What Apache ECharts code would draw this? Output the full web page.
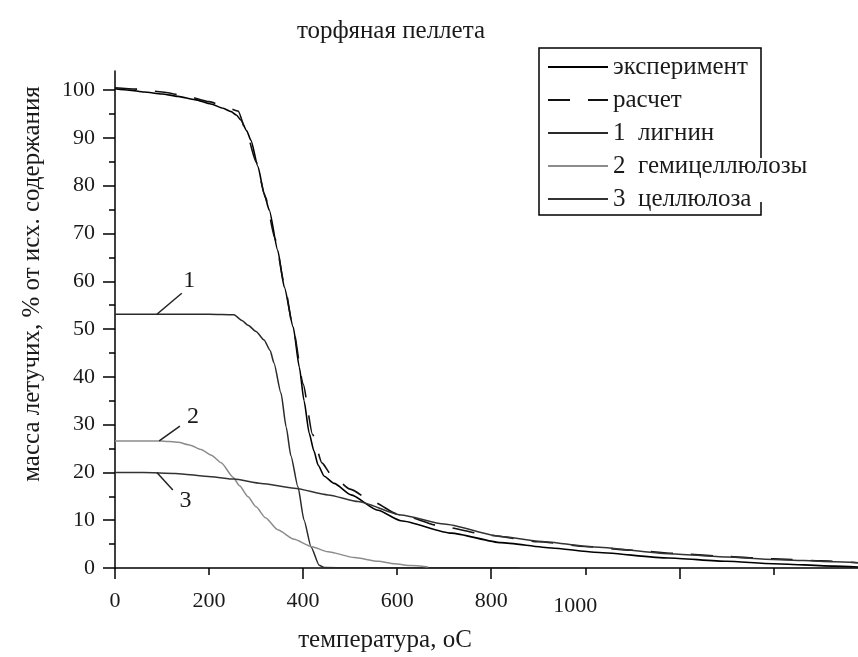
<!DOCTYPE html>
<html><head><meta charset="utf-8">
<script src="https://cdn.jsdelivr.net/npm/echarts@6/dist/echarts.min.js"></script>
<style>html,body{margin:0;padding:0;background:#fff}#c{width:858px;height:657px}</style>
</head><body><div id="c"></div>
<script>
const titleText = 'торфяная пеллета';
const xName = 'температура, оС';
const yName = 'масса летучих, % от исх. содержания';
const seriesNames = ['эксперимент', 'расчет', '1  лигнин', '2  гемицеллюлозы', '3  целлюлоза'];
const xTickLabels = [0, 200, 400, 600, 800, 1000];
const xTicksMinor = [0, 200, 400, 600, 800, 1000, 1200, 1400];
const xTicksMajor = [0, 400, 800, 1200];
const yTickLabels = [0, 10, 20, 30, 40, 50, 60, 70, 80, 90, 100];
const yTicksMinor = [5, 15, 25, 35, 45, 55, 65, 75, 85, 95];

// эксперимент
const tExp = [0, 30, 62, 100, 134, 170, 204, 230, 247, 258, 268, 280, 289, 304, 317, 328, 346, 360, 379, 392, 402, 413, 423, 432, 445, 466, 502, 559, 608, 715, 821, 928, 1019, 1177, 1300, 1400, 1530, 1580];
const vExp = [100.3, 100.0, 99.6, 99.2, 98.7, 98.0, 97.1, 96.2, 95.5, 94.8, 93.7, 91.5, 89.5, 84.0, 78.4, 74.9, 66.5, 58.8, 50.4, 42.0, 35.0, 28.2, 24.5, 21.5, 19.2, 17.7, 15.3, 12.1, 9.9, 7.3, 5.3, 4.2, 3.3, 2.1, 1.4, 0.9, 0.4, 0.2];
// расчет
const tCalc = [0, 50, 100, 150, 200, 240, 262, 280, 300, 320, 340, 360, 380, 400, 420, 440, 460, 500, 550, 600, 700, 800, 900, 1000, 1100, 1200, 1300, 1400, 1500, 1580];
const vCalc = [100.5, 100.2, 99.6, 98.8, 97.6, 96.3, 95.6, 91.0, 85.0, 77.5, 69.0, 59.5, 49.5, 38.5, 28.0, 22.0, 19.5, 16.5, 13.8, 11.3, 8.6, 6.8, 5.5, 4.5, 3.7, 3.0, 2.4, 1.9, 1.5, 1.1];
// 1 лигнин
const tLig = [0, 100, 200, 253, 270, 283, 300, 317, 330, 338, 353, 364, 374, 389, 402, 417, 434, 445, 500, 700, 860];
const vLig = [53.1, 53.1, 53.1, 53.0, 51.8, 50.8, 49.5, 47.7, 45.5, 42.9, 36.6, 29.5, 23.5, 17.0, 10.0, 4.4, 0.6, 0.1, 0.05, 0.05, 0.05];
// 2 гемицеллюлозы
const tHem = [0, 98, 134, 160, 183, 205, 226, 251, 265, 283, 300, 320, 346, 381, 417, 453, 509, 560, 594, 630, 666];
const vHem = [26.6, 26.6, 26.3, 25.7, 24.8, 23.6, 22.0, 19.0, 17.2, 14.9, 12.8, 10.5, 8.0, 6.0, 4.5, 3.4, 2.2, 1.4, 0.9, 0.5, 0.2];
// 3 целлюлоза
const tCel = [0, 60, 129, 204, 253, 311, 381, 453, 517, 608, 700, 821, 900, 1019, 1177, 1300, 1400, 1530, 1580];
const vCel = [20.0, 20.0, 19.8, 19.1, 18.6, 17.7, 16.7, 15.3, 13.9, 11.1, 9.2, 6.6, 5.6, 4.4, 3.0, 2.3, 1.8, 1.3, 1.1];

const zip = (a, b) => a.map((x, i) => [x, b[i]]);
const FONT = "'Liberation Serif', 'Times New Roman', serif";
const TXT = '#1a1a1a';

const chart = echarts.init(document.getElementById('c'), null, {renderer: 'canvas'});

function mkLine(name, data, color, width, type) {
  return {
    name: name, type: 'line', data: data, showSymbol: false, symbol: 'none',
    smooth: 0.2, smoothMonotone: 'x', xAxisIndex: 0, yAxisIndex: 0,
    lineStyle: {color: color, width: width, type: type || 'solid'},
    itemStyle: {color: color}, animation: false, z: 3
  };
}

const option = {
  backgroundColor: '#fff',
  animation: false,
  title: {
    text: titleText, left: 386, top: 14, textAlign: 'center',
    textStyle: {fontFamily: FONT, fontSize: 25, fontWeight: 'normal', color: TXT}
  },
  grid: {left: 115, right: 0, top: 71, bottom: 89, containLabel: false},
  legend: {
    orient: 'vertical', left: 547, top: 54, padding: 0,
    itemWidth: 60, itemHeight: 14, itemGap: 7,
    data: seriesNames,
    itemStyle: {opacity: 0, borderWidth: 0},
    textStyle: {fontFamily: FONT, fontSize: 25, lineHeight: 26, color: TXT}
  },
  xAxis: [{
    type: 'value', min: 0, max: 1580, interval: 200,
    axisLine: {show: true, lineStyle: {color: '#000', width: 1.5}},
    axisTick: {show: true, length: 7, inside: false, customValues: xTicksMinor, lineStyle: {color: '#000', width: 1.5}},
    axisLabel: {
      customValues: xTickLabels, margin: 22, fontFamily: FONT, fontSize: 22, color: TXT,
      formatter: v => (v === 1000 ? '{s|1000}' : String(v)),
      rich: {s: {fontFamily: FONT, fontSize: 22, color: TXT, padding: [5, 20, 0, 0]}}
    },
    splitLine: {show: false}
  }, {
    type: 'value', min: 0, max: 1580, position: 'bottom', gridIndex: 0,
    axisLine: {show: false},
    axisTick: {show: true, length: 11, customValues: xTicksMajor, lineStyle: {color: '#000', width: 1.5}},
    axisLabel: {show: false},
    splitLine: {show: false}
  }],
  yAxis: [{
    type: 'value', min: 0, max: 104,
    axisLine: {show: true, lineStyle: {color: '#000', width: 1.5}},
    axisTick: {show: true, length: 12, customValues: yTickLabels, lineStyle: {color: '#000', width: 1.5}},
    axisLabel: {customValues: yTickLabels, margin: 20, fontFamily: FONT, fontSize: 22, color: TXT, formatter: v => String(v)},
    splitLine: {show: false}
  }, {
    type: 'value', min: 0, max: 104, position: 'left', gridIndex: 0,
    axisLine: {show: false},
    axisTick: {show: true, length: 6, customValues: yTicksMinor, lineStyle: {color: '#000', width: 1.5}},
    axisLabel: {show: false},
    splitLine: {show: false}
  }],
  series: [
    mkLine(seriesNames[0], zip(tExp, vExp), '#000', 1.6),
    mkLine(seriesNames[1], zip(tCalc, vCalc), '#111', 1.6, [22, 18]),
    mkLine(seriesNames[2], zip(tLig, vLig), '#2a2a2a', 1.5),
    mkLine(seriesNames[3], zip(tHem, vHem), '#8c8c8c', 1.5),
    mkLine(seriesNames[4], zip(tCel, vCel), '#333', 1.5)
  ]
};
chart.setOption(option);

// annotations: curve labels with leader lines, positioned via data coordinates
const annot = [
  {label: '1', from: [89, 53.1], to: [142, 57.5], text: [158, 60.2]},
  {label: '2', from: [94, 26.6], to: [138, 29.7], text: [166, 31.6]},
  {label: '3', from: [89, 20.0], to: [123, 16.3], text: [150, 14.0]}
];
const px = p => chart.convertToPixel({gridIndex: 0}, p);
const graphics = [];
annot.forEach(a => {
  const f = px(a.from), t = px(a.to), tx = px(a.text);
  graphics.push({type: 'line', shape: {x1: f[0], y1: f[1], x2: t[0], y2: t[1]}, style: {stroke: '#222', lineWidth: 1.5}, z: 10});
  graphics.push({type: 'text', x: tx[0], y: tx[1], style: {text: a.label, font: '24px ' + FONT, fill: TXT, textAlign: 'center', textVerticalAlign: 'middle'}, z: 10});
});
// axis names
graphics.push({type: 'text', x: 385, y: 640, style: {text: xName, font: '25px ' + FONT, fill: TXT, textAlign: 'center', textVerticalAlign: 'middle'}, z: 10});
graphics.push({type: 'text', x: 32, y: 284, rotation: Math.PI / 2, style: {text: yName, font: '25px ' + FONT, fill: TXT, textAlign: 'center', textVerticalAlign: 'middle'}, z: 10});
// legend frame (open on the right where long labels pass)
graphics.push({type: 'polyline', shape: {points: [[761, 158], [761, 48], [539, 48], [539, 215], [761, 215], [761, 202]]}, style: {stroke: '#000', lineWidth: 1.5, fill: null}, z: 10});
chart.setOption({graphic: graphics});
</script>
</body></html>
